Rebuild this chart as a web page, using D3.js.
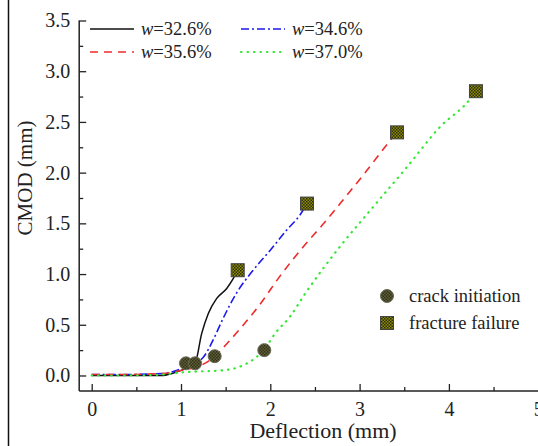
<!DOCTYPE html>
<html>
<head>
<meta charset="utf-8">
<script src="https://cdn.jsdelivr.net/npm/d3@7"></script>
<style>
  body { margin: 0; background: #fff; }
</style>
</head>
<body>
<div id="chart"></div>
<script>
// deflection (mm) / CMOD (mm)
var deflW326 = [0, 0.4, 0.78, 0.9, 1.0, 1.1, 1.157, 1.232, 1.306, 1.4, 1.512, 1.586, 1.635];
var cmodW326 = [0, 0, 0, 0.02, 0.05, 0.09, 0.12, 0.415, 0.612, 0.76, 0.858, 0.957, 1.038];

var deflW346 = [0, 0.4, 0.8, 0.95, 1.05, 1.15, 1.25, 1.36, 1.47, 1.62, 1.81, 2.0, 2.18, 2.33, 2.411];
var cmodW346 = [0.01, 0.01, 0.02, 0.05, 0.09, 0.12, 0.18, 0.35, 0.56, 0.81, 1.04, 1.235, 1.43, 1.58, 1.695];

var deflW356 = [0, 0.4, 0.8, 1.0, 1.2, 1.38, 1.5, 1.7, 1.9, 2.1, 2.37, 2.6, 2.86, 3.08, 3.3, 3.419];
var cmodW356 = [0.01, 0.01, 0.02, 0.05, 0.09, 0.19, 0.3, 0.5, 0.72, 0.97, 1.27, 1.5, 1.78, 2.02, 2.27, 2.397];

var deflW370 = [0, 0.4, 0.8, 1.0, 1.2, 1.45, 1.6, 1.74, 1.85, 1.95, 2.05, 2.22, 2.4, 2.78, 3.15, 3.53, 3.9, 4.24, 4.303];
var cmodW370 = [0, 0, 0.01, 0.03, 0.04, 0.05, 0.07, 0.12, 0.185, 0.28, 0.41, 0.58, 0.82, 1.27, 1.66, 2.055, 2.45, 2.728, 2.803];

var crackDefl = [1.056, 1.157, 1.377, 1.933];
var crackCmod = [0.12, 0.12, 0.19, 0.25];
var failDefl = [1.635, 2.411, 3.419, 4.303];
var failCmod = [1.038, 1.695, 2.397, 2.803];

var seriesNames = ["32.6%", "34.6%", "35.6%", "37.0%"];
var xTicks = [0, 1, 2, 3, 4, 5];
var yTicks = [0, 0.5, 1.0, 1.5, 2.0, 2.5, 3.0, 3.5];

var W = 538, H = 446;
var FONT = "'Liberation Serif'";

var svg = d3.select("#chart").append("svg")
    .attr("width", W)
    .attr("height", H);

// left border of the figure panel
svg.append("line")
    .attr("x1", 8.5).attr("x2", 8.5).attr("y1", 0).attr("y2", H)
    .attr("stroke", "#111").attr("stroke-width", 1.5);

var x = d3.scaleLinear().domain([-0.14, 5.3]).range([79.2, 79.2 + 5.44 * 89.3]);
var y = d3.scaleLinear().domain([-0.153, 3.5]).range([391, 20.5]);

var defs = svg.append("defs");
var pc = defs.append("pattern").attr("id", "chkC")
    .attr("patternUnits", "userSpaceOnUse").attr("width", 3).attr("height", 3);
pc.append("rect").attr("width", 3).attr("height", 3).attr("fill", "#5e5e36");
pc.append("rect").attr("width", 1.5).attr("height", 1.5).attr("fill", "#34341c");
pc.append("rect").attr("x", 1.5).attr("y", 1.5).attr("width", 1.5).attr("height", 1.5).attr("fill", "#34341c");

var ps = defs.append("pattern").attr("id", "chkS")
    .attr("patternUnits", "userSpaceOnUse").attr("width", 3).attr("height", 3);
ps.append("rect").attr("width", 3).attr("height", 3).attr("fill", "#8a8a0c");
ps.append("rect").attr("width", 1.5).attr("height", 1.5).attr("fill", "#2e2e06");
ps.append("rect").attr("x", 1.5).attr("y", 1.5).attr("width", 1.5).attr("height", 1.5).attr("fill", "#2e2e06");

// axes, ticks inside
var xAxis = svg.append("g").attr("transform", "translate(0," + y.range()[0] + ")")
    .call(d3.axisBottom(x).tickValues(xTicks).tickSize(-7).tickPadding(11).tickFormat(d3.format("d")));
svg.append("g").attr("transform", "translate(0," + y.range()[0] + ")")
    .call(d3.axisBottom(x).tickValues([0.5, 1.5, 2.5, 3.5, 4.5]).tickSize(-4).tickFormat(""))
    .select(".domain").remove();

var yAxis = svg.append("g").attr("transform", "translate(" + x.range()[0] + ",0)")
    .call(d3.axisLeft(y).tickValues(yTicks).tickSize(-7).tickPadding(9).tickFormat(d3.format(".1f")));
svg.append("g").attr("transform", "translate(" + x.range()[0] + ",0)")
    .call(d3.axisLeft(y).tickValues([0.25, 0.75, 1.25, 1.75, 2.25, 2.75, 3.25]).tickSize(-4).tickFormat(""))
    .select(".domain").remove();

svg.selectAll(".domain").attr("stroke", "#222").attr("stroke-width", 1.5);
svg.selectAll(".tick line").attr("stroke", "#222").attr("stroke-width", 1.3);
xAxis.selectAll("text").attr("font-size", 20).attr("fill", "#222").style("font-family", FONT);
yAxis.selectAll("text").attr("font-size", 20).attr("fill", "#222").style("font-family", FONT);
// y domain starts at the 3.5 tick, like a bracket
yAxis.select(".domain").attr("d", "M-0," + y(3.5) + "H0V" + y.range()[0]);
xAxis.select(".domain").attr("d", "M" + x.range()[0] + ",0H" + x.range()[1]);

svg.append("text")
    .attr("x", 323).attr("y", 438)
    .attr("text-anchor", "middle").attr("font-size", 22).attr("fill", "#222")
    .style("font-family", FONT)
    .text("Deflection (mm)");
svg.append("text")
    .attr("transform", "translate(32,178) rotate(-90)")
    .attr("text-anchor", "middle").attr("font-size", 21).attr("fill", "#222")
    .style("font-family", FONT)
    .text("CMOD (mm)");

var styles = [
  { xs: deflW326, ys: cmodW326, color: "#111", dash: null, w: 1.5, cap: "butt" },
  { xs: deflW346, ys: cmodW346, color: "#1a1aee", dash: "8,3,2,3", w: 1.6, cap: "butt" },
  { xs: deflW356, ys: cmodW356, color: "#ee2b2b", dash: "8,6", w: 1.6, cap: "butt" },
  { xs: deflW370, ys: cmodW370, color: "#33e833", dash: "0.5,6", w: 2.2, cap: "round" }
];

var line = d3.line()
    .x(function(d) { return x(d[0]); })
    .y(function(d) { return y(d[1]); })
    .curve(d3.curveMonotoneX);

styles.forEach(function(s) {
  var pts = s.xs.map(function(v, i) { return [v, s.ys[i]]; });
  svg.append("path")
      .attr("d", line(pts))
      .attr("fill", "none")
      .attr("stroke", s.color)
      .attr("stroke-width", s.w)
      .attr("stroke-linecap", s.cap)
      .attr("stroke-dasharray", s.dash);
});

svg.selectAll("circle.crack")
    .data(crackDefl)
    .enter().append("circle")
    .attr("class", "crack")
    .attr("cx", function(d) { return x(d); })
    .attr("cy", function(d, i) { return y(crackCmod[i]); })
    .attr("r", 6.5)
    .attr("fill", "url(#chkC)")
    .attr("stroke", "#6a6a5a").attr("stroke-width", 1);

svg.selectAll("rect.fail")
    .data(failDefl)
    .enter().append("rect")
    .attr("class", "fail")
    .attr("x", function(d) { return x(d) - 6.5; })
    .attr("y", function(d, i) { return y(failCmod[i]) - 6.5; })
    .attr("width", 13).attr("height", 13)
    .attr("fill", "url(#chkS)")
    .attr("stroke", "#444").attr("stroke-width", 1);

// legend of curves
var legPos = [[90, 29], [241, 29], [90, 52], [241, 52]];
styles.forEach(function(s, i) {
  var p = legPos[i];
  svg.append("line")
      .attr("x1", p[0]).attr("x2", p[0] + 44).attr("y1", p[1]).attr("y2", p[1])
      .attr("stroke", s.color).attr("stroke-width", s.w)
      .attr("stroke-linecap", s.cap)
      .attr("stroke-dasharray", s.dash);
  var t = svg.append("text")
      .attr("x", p[0] + 51).attr("y", p[1] + 6)
      .attr("font-size", 18.5).attr("fill", "#222").style("font-family", FONT);
  t.append("tspan").attr("font-style", "italic").text("w");
  t.append("tspan").text("=" + seriesNames[i]);
});

// legend of markers
svg.append("circle").attr("cx", 387).attr("cy", 296).attr("r", 6.5)
    .attr("fill", "url(#chkC)").attr("stroke", "#6a6a5a");
svg.append("text").attr("x", 409).attr("y", 302).attr("font-size", 18.5).attr("fill", "#222")
    .style("font-family", FONT)
    .text("crack initiation");
svg.append("rect").attr("x", 380.5).attr("y", 316.5).attr("width", 13).attr("height", 13)
    .attr("fill", "url(#chkS)").attr("stroke", "#444");
svg.append("text").attr("x", 409).attr("y", 329).attr("font-size", 18.5).attr("fill", "#222")
    .style("font-family", FONT)
    .text("fracture failure");
</script>
</body>
</html>
